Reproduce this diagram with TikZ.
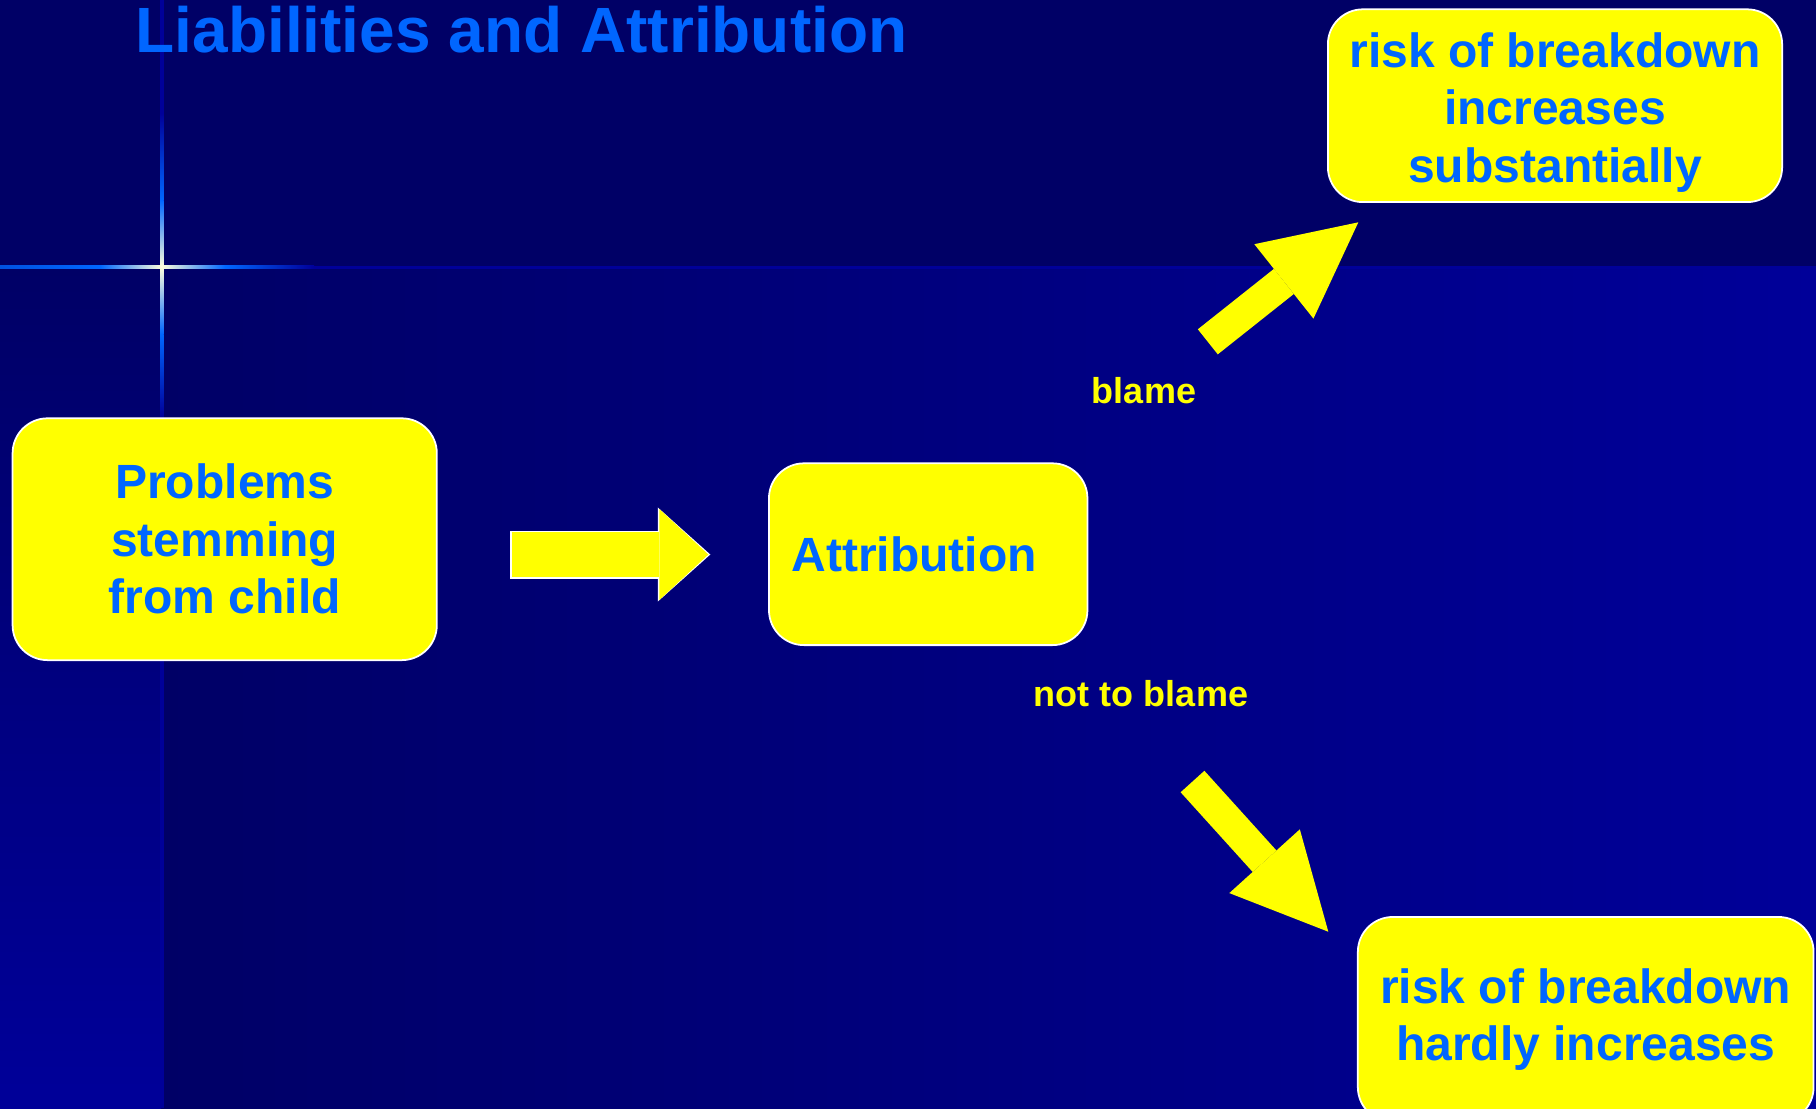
\documentclass[tikz,border=0pt]{standalone}
\usepackage{fontspec}
\setmainfont{Liberation Sans}
\usepackage{tikz}
\usetikzlibrary{arrows.meta}
\definecolor{bgtop}{HTML}{000066}
\definecolor{bgbright}{HTML}{000099}
\definecolor{glowblue}{HTML}{0066FF}
\definecolor{cream}{HTML}{FFFFDD}
\definecolor{textblue}{HTML}{0066FF}
\definecolor{boxyellow}{RGB}{255,255,0}
\begin{document}
\begin{tikzpicture}[x=0.01cm, y=-0.01cm,
  box/.style={rounded corners=0.35cm, fill=boxyellow, draw=white, line width=0.5pt, text=textblue, align=center, inner sep=0pt, font=\bfseries\fontsize{13.66}{16.36}\selectfont},
  cue/.style={text=boxyellow, anchor=base, inner sep=0pt, font=\bfseries\fontsize{10.24}{12.3}\selectfont},
  fat/.style={draw=boxyellow, line width=0.45cm, -{Triangle[length=0.49cm,width=0.91cm,line width=0pt]}},
  slim/.style={draw=boxyellow, line width=0.32cm, -{Triangle[length=0.95cm,width=0.95cm,line width=0pt]}}]
\path[use as bounding box, clip] (0,0) rectangle (1816,1108);
\fill[bgtop] (0,0) rectangle (1816,267);
\shade[left color=bgtop, right color=bgbright] (161,267) rectangle (1816,1108);
\shade[top color=bgtop, bottom color=bgbright] (0,267) rectangle (161,1108);
\fill[bgbright] (160,0) rectangle (163.5,1108);
\fill[bgbright] (314,265.5) rectangle (1816,268.5);
\shade[top color=bgbright, bottom color=glowblue] (160,113) rectangle (163.5,200);
\shade[top color=glowblue, bottom color=cream] (160,200) rectangle (163.5,267);
\shade[top color=cream, bottom color=glowblue] (160,267) rectangle (163.5,334);
\shade[top color=glowblue, bottom color=bgbright] (160,334) rectangle (163.5,417);
\shade[left color=glowblue!80!bgtop, right color=glowblue] (0,265.5) rectangle (100,268.5);
\shade[left color=glowblue, right color=cream] (100,265.5) rectangle (161.7,268.5);
\shade[left color=cream, right color=glowblue] (161.7,265.5) rectangle (225,268.5);
\shade[left color=glowblue, right color=bgbright] (225,265.5) rectangle (314,268.5);

\node[anchor=base west, inner sep=0pt, text=glowblue, font=\bfseries\fontsize{18.2}{22}\selectfont] (title) at (135,52) {Liabilities and Attribution};

\node[box, minimum width=4.24cm, minimum height=2.417cm] (P) at (224.7,539.2) {Problems\\stemming\\from child};
\node[box, minimum width=3.183cm, minimum height=1.817cm] (A) at (928.2,554.2) {Attribution\hspace*{0.28cm}};
\node[box, minimum width=4.54cm, minimum height=1.927cm] (U) at (1555,105.7) {\rule{0pt}{0.48cm}risk of breakdown\\increases\\substantially};
\node[box, minimum width=4.555cm, minimum height=2.05cm] (D) at (1585.7,1019.5) {risk of breakdown\\hardly increases};

\node[cue] (blame) at (1144,403) {blame};
\node[cue] (noblame) at (1141,706) {not to blame};

\coordinate (Pout) at (511.7,554.5);
\coordinate (Ain) at (708.3,554.5);
\coordinate (Aup) at (1207.8,341.8);
\coordinate (Uin) at (1358.3,222.3);
\coordinate (Adown) at (1192.5,781.5);
\coordinate (Din) at (1328.3,931.7);

\draw[draw=white, line width=0.48cm, -{Triangle[length=0.525cm,width=0.94cm,line width=0pt]}, shorten <=-0.015cm, shorten >=-0.02cm] (Pout) -- (Ain);
\draw[fat] (Pout) -- (Ain);
\path
(Aup) edge[slim] (Uin)
(Adown) edge[slim] (Din);
\end{tikzpicture}
\end{document}
